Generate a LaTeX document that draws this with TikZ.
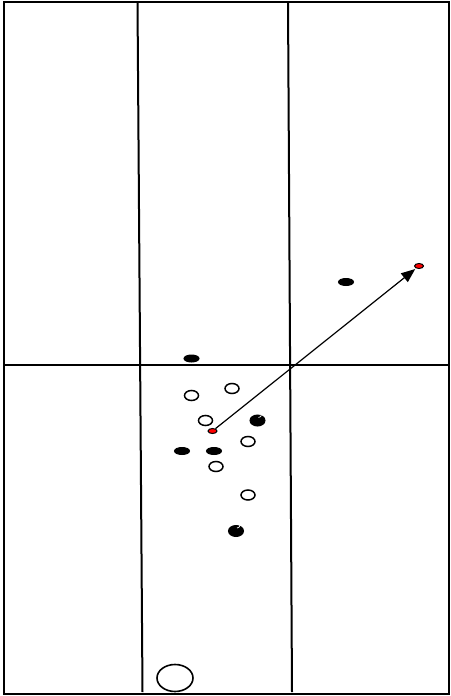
\documentclass[tikz,border=0pt]{standalone}
\usepackage{tikz}
\usetikzlibrary{arrows.meta, positioning}
\usetikzlibrary{shapes.geometric}
\usetikzlibrary{calc}

\begin{document}
\begin{tikzpicture}[x=1pt,y=-1pt,
        line/.style={line width=2pt},
        dark/.style={ellipse,draw,fill=black,line width=1pt,inner sep=0pt,minimum width=15pt,minimum height=7pt},
        shiny/.style={ellipse,draw,fill=black,line width=1pt,inner sep=0pt,minimum width=15pt,minimum height=11pt},
        light/.style={ellipse,draw,fill=white,line width=1.5pt,inner sep=0pt,minimum width=14pt,minimum height=10pt},
        redball/.style={ellipse,draw,fill=red,line width=1pt,inner sep=0pt,minimum width=9pt,minimum height=5pt}]
            \useasboundingbox (0,0) rectangle (450,696);
            % field
            \draw[line] (4,2) rectangle (449,694);
            \draw[line] (137.5,2) -- (142.5,692);
            \draw[line] (288,2) -- (292,692);
            \draw[line] (4,364.5) -- (449,364.5);
            % dots
            \node[dark](d1) at (191.5,358.5) {};
            \node[dark](d2) at (346,282) {};
            \node[dark](d3) at (182,451) {};
            \node[dark](d4) at (214,451) {};
            \node[shiny](s1) at (257.5,420.5) {};
            \node[shiny](s2) at (236,531) {};
            \draw[white,line width=0.7pt] ($(s1)+(1,-3)$) arc (90:0:3);
            \draw[white,line width=0.7pt] ($(s2)+(1,-3)$) arc (90:0:3);
            \node[light](l1) at (191.5,395.5) {};
            \node[light](l2) at (232,388.5) {};
            \node[light](l3) at (205.5,420.5) {};
            \node[light](l4) at (248,441.5) {};
            \node[light](l5) at (216,466.5) {};
            \node[light](l6) at (248,495) {};
            \node[ellipse,draw,line width=1.6pt,inner sep=0pt,minimum width=36pt,minimum height=27pt](big) at (175,678) {};
            \node[redball](ball) at (212.5,431) {};
            \node[redball](goal) at (419,266) {};
            \draw[line width=1.2pt,-{Triangle[length=14pt,width=11pt]},shorten >=1pt] (ball) -- (goal);
        \end{tikzpicture}
\end{document}
